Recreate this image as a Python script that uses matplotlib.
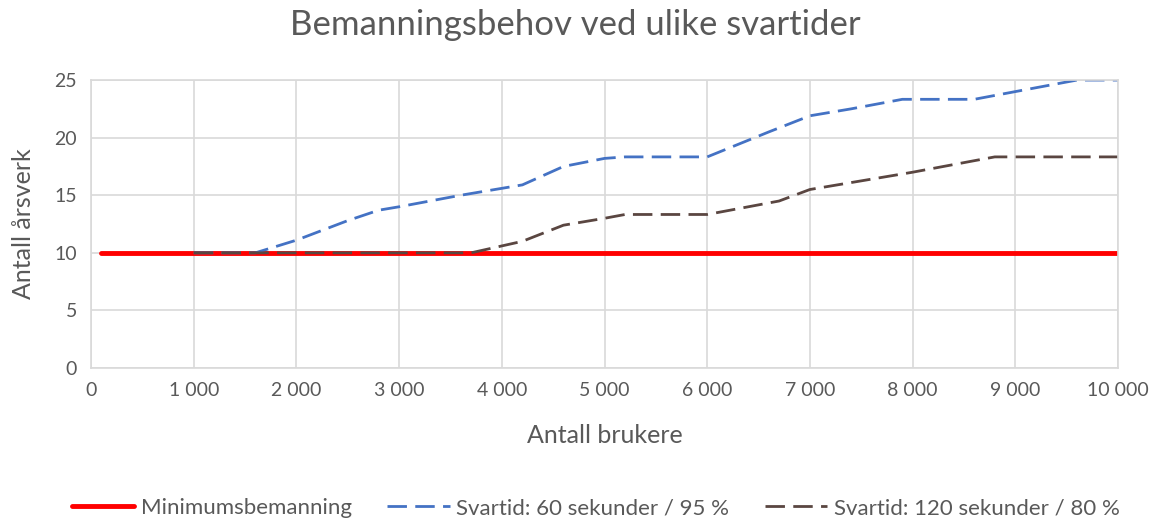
import matplotlib.pyplot as plt
from matplotlib.ticker import FuncFormatter

# Antall brukere / årsverk per scenario
min_x = [100, 10000]
min_y = [10, 10]

sv60_x = [1000, 1600, 2000, 2500, 2800, 3000, 3600, 4200, 4600, 5000, 5200,
          6000, 6600, 7000, 7400, 7900, 8600, 9000, 9600, 10000]
sv60_y = [10, 10, 11.1, 12.8, 13.7, 14.0, 15.0, 15.9, 17.5, 18.2, 18.33,
          18.33, 20.5, 21.9, 22.5, 23.33, 23.33, 24.0, 25.0, 25.0]

sv120_x = [1000, 3700, 4200, 4600, 5000, 5200, 6000, 6700, 7000, 7800, 8000,
           8600, 8800, 10000]
sv120_y = [10, 10, 11.0, 12.4, 13.0, 13.33, 13.33, 14.5, 15.5, 16.7, 17.0,
           18.0, 18.33, 18.33]

x_ticks = list(range(0, 10001, 1000))
y_ticks = [0, 5, 10, 15, 20, 25]

plt.rcParams['font.family'] = ['Lato', 'DejaVu Sans']
txt = '#595959'
grid = '#d9d9d9'

fig = plt.figure(figsize=(11.57, 5.2), dpi=100)
ax = fig.add_axes([0.0787, 0.2923, 0.8876, 0.5537])

ax.plot(min_x, min_y, color='#ff0000', lw=3.5, solid_capstyle='round',
        label='Minimumsbemanning')
ax.plot(sv60_x, sv60_y, color='#4472C4', lw=2.0, dashes=(7, 3),
        label='Svartid: 60 sekunder / 95 %')
ax.plot(sv120_x, sv120_y, color='#5a4641', lw=2.0, dashes=(7, 3),
        label='Svartid: 120 sekunder / 80 %')

ax.set_xlim(0, 10000)
ax.set_ylim(0, 25)
ax.set_xticks(x_ticks)
ax.set_yticks(y_ticks)
ax.xaxis.set_major_formatter(FuncFormatter(lambda v, p: f'{int(v):,}'.replace(',', ' ')))
ax.grid(True, color=grid, lw=1.2)
ax.set_axisbelow(True)
for s in ax.spines.values():
    s.set_color(grid)
    s.set_linewidth(1.2)
ax.tick_params(length=0, labelsize=14, colors=txt, pad=10)

fig.suptitle('Bemanningsbehov ved ulike svartider', fontsize=25, color=txt,
             x=0.497, y=0.952, va='center')
ax.set_xlabel('Antall brukere', fontsize=18, color=txt, labelpad=18)
ax.set_ylabel('Antall årsverk', fontsize=18, color=txt, labelpad=14)

fig.legend(loc='center', bbox_to_anchor=(0.515, 0.023), ncol=3, frameon=False,
           fontsize=16, labelcolor=txt, handlelength=2.8, handletextpad=0.3,
           columnspacing=1.6)

fig.savefig('out.png', dpi=100)
